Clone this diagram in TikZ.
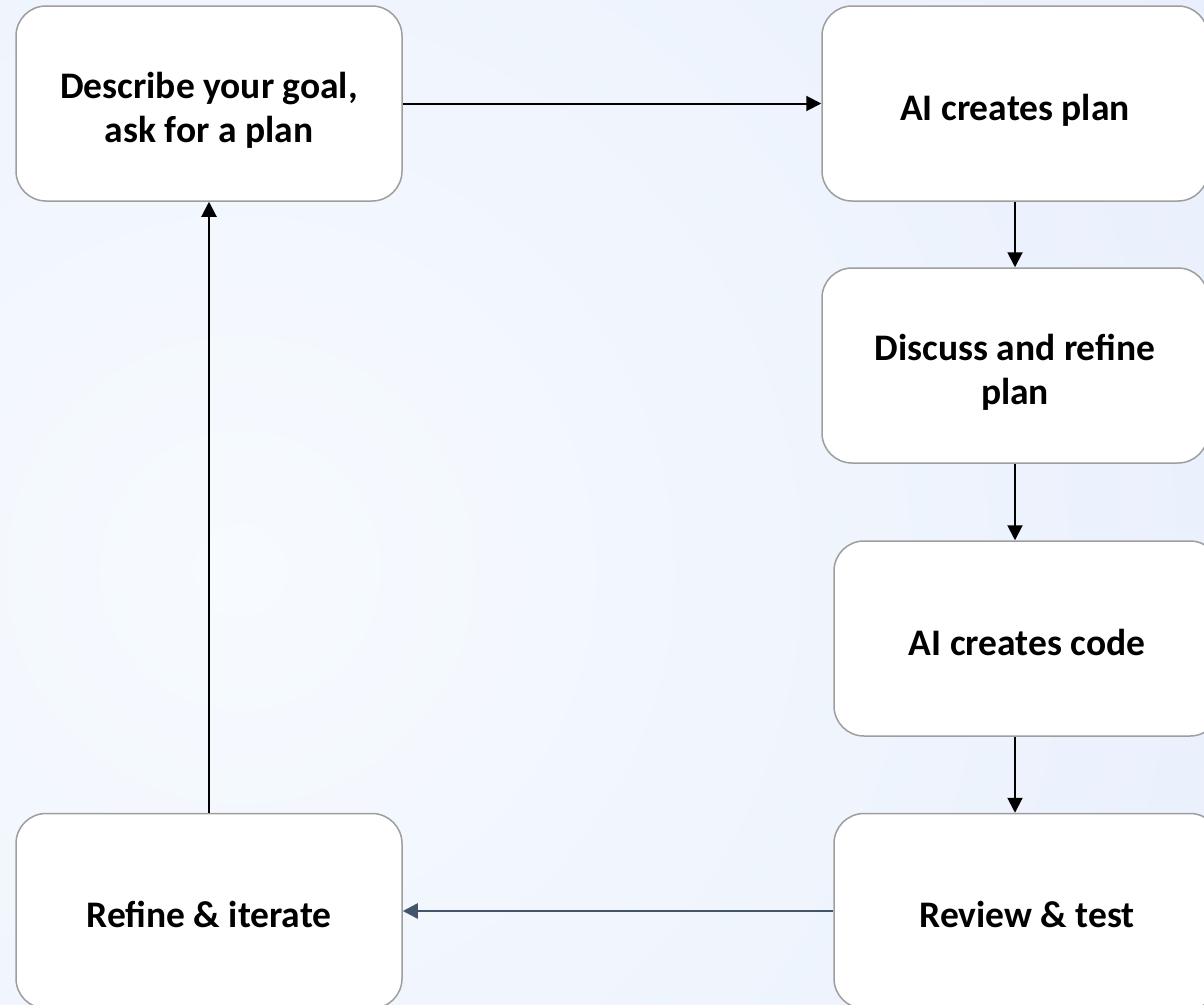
\documentclass[tikz,border=0pt]{standalone}
\usepackage{fontspec}
\setmainfont{Carlito}
\usetikzlibrary{arrows.meta,calc}
\definecolor{bgin}{RGB}{247,251,255}
\definecolor{bgout}{RGB}{228,235,251}
\definecolor{boxline}{RGB}{158,158,158}
\definecolor{slate}{RGB}{68,84,106}
\newcommand\boxtext[1]{\raisebox{-8pt}[\height][\depth]{\begin{tabular}{@{}c@{}}#1\end{tabular}}}
\tikzset{
  stepbox/.style={rectangle, rounded corners=30pt, draw=boxline, line width=1.5pt,
    fill=white, minimum width=386pt, minimum height=195pt,
    font=\fontsize{37.5}{44}\selectfont\bfseries, inner sep=0pt},
  flow/.style={line width=2pt, draw=black, -{Triangle[length=15pt,width=15pt]}},
  backflow/.style={line width=2.5pt, draw=slate, -{Triangle[length=15pt,width=15pt]}}
}
\begin{document}
\begin{tikzpicture}[x=1pt,y=-1pt]
\useasboundingbox (0,0) rectangle (1204,1004);
\begin{scope}
\clip (0,0) rectangle (1204,1004);
\shade[inner color=bgin, outer color=bgout] (240,570) circle (1500);
\end{scope}
\begin{scope}
\clip (0,0) rectangle (1204,1004);
\node[stepbox] (b1) at (209,103.5) {\boxtext{Describe your goal,\\ask for a plan}};
\node[stepbox] (b2) at (1015,103.5) {\boxtext{AI creates plan}};
\node[stepbox] (b3) at (1015,365.5) {\boxtext{Discuss and refine\\plan}};
\node[stepbox] (b4) at (1027,638.5) {\boxtext{AI creates code}};
\node[stepbox] (b5) at (1027,911) {\boxtext{Review \& test}};
\node[stepbox] (b6) at (209,911) {\boxtext{Refine \& iterate}};
\draw[flow] (b1.east) -- (b2.west);
\draw[flow] (b2.south) -- (b3.north);
\draw[flow] (b3.south) -- (b3.south |- b4.north);
\draw[flow] (b3.south |- b4.south) -- (b3.south |- b5.north);
\draw[backflow] (b5.west) -- (b6.east);
\draw[flow] (b6.north) -- (b1.south);
\end{scope}
\end{tikzpicture}
\end{document}
